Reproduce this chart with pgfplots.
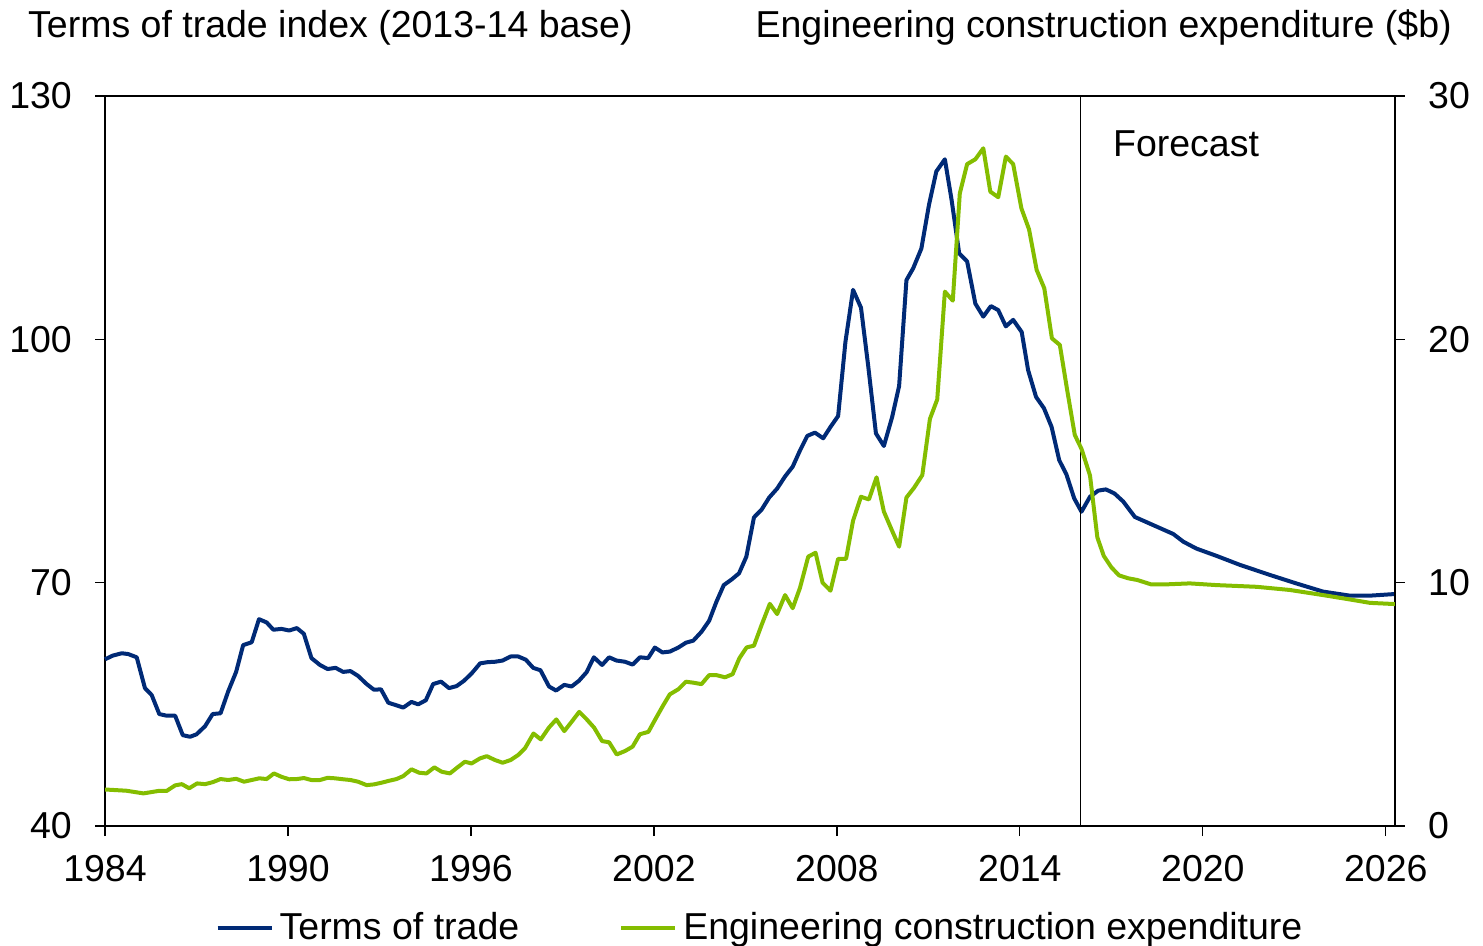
\documentclass[border=0pt]{standalone}
\usepackage{pgfplots}
\pgfplotsset{compat=1.18}
\usepackage{fontspec}
\setmainfont{Liberation Sans}
\definecolor{totblue}{RGB}{0,42,118}
\definecolor{ecegreen}{RGB}{132,189,0}
\begin{document}
\begin{tikzpicture}[font=\fontsize{37.5}{45}\selectfont]
\begin{axis}[
  name=main,
  at={(0,0)}, anchor=south west,
  width=1290pt, height=730pt, scale only axis,
  xmin=1984, xmax=2026.3, ymin=40, ymax=130,
  xtick={1984,1990,1996,2002,2008,2014,2020,2026},
  ytick={40,70,100,130},
  xtick pos=left, ytick pos=left,
  tick align=outside, major tick length=10pt,
  axis line style={line width=1.5pt},
  tick style={line width=1.2pt, black},
  /pgf/number format/1000 sep={},
  /pgf/number format/assume math mode=true,
  ticklabel style={font=\fontsize{37.5}{45}\selectfont, inner sep=0pt},
  yticklabel style={anchor=east, xshift=-23pt},
  xticklabel style={anchor=north, yshift=-19pt},
  legend style={at={(0.507,-0.138)}, anchor=center, draw=none, fill=none,
    legend columns=2, inner sep=0pt, font=\fontsize{37.5}{45}\selectfont,
    nodes={inner sep=0pt, anchor=base west}},
  legend image code/.code={\draw[#1, line width=4pt] (0pt,12pt) -- (54pt,12pt);},
  /tikz/every odd column/.append style={column sep=6pt},
  /tikz/every even column/.append style={column sep=100pt},
  clip=false,
]
\addplot[totblue, line width=4pt, line join=round] coordinates {
(1984.00,60.55) (1984.25,61.0) (1984.55,61.3) (1984.76,61.2) (1985.04,60.8)
(1985.31,57.0) (1985.53,56.15) (1985.78,53.8) (1986.02,53.6) (1986.30,53.6)
(1986.55,51.2) (1986.79,51.0) (1987.00,51.3) (1987.28,52.3) (1987.53,53.8)
(1987.79,53.9) (1988.04,56.6) (1988.30,59.0) (1988.53,62.3) (1988.81,62.65)
(1989.05,65.5) (1989.30,65.1) (1989.52,64.2) (1989.79,64.3) (1990.04,64.1)
(1990.29,64.4) (1990.52,63.7) (1990.77,60.7) (1991.05,59.85) (1991.30,59.35)
(1991.56,59.5) (1991.81,59.0) (1992.05,59.1) (1992.30,58.5) (1992.58,57.5)
(1992.82,56.8) (1993.05,56.85) (1993.29,55.2) (1993.54,54.9) (1993.78,54.6)
(1994.05,55.3) (1994.27,55.0) (1994.52,55.5) (1994.76,57.5) (1995.02,57.8)
(1995.28,57.0) (1995.53,57.25) (1995.77,57.9) (1996.02,58.8) (1996.30,60.05)
(1996.55,60.2) (1996.79,60.25) (1997.04,60.4) (1997.30,60.9) (1997.55,60.9)
(1997.80,60.5) (1998.04,59.5) (1998.28,59.2) (1998.56,57.2) (1998.79,56.7)
(1999.06,57.4) (1999.30,57.2) (1999.54,57.9) (1999.79,58.95) (2000.03,60.8)
(2000.30,59.85) (2000.53,60.8) (2000.77,60.4) (2001.05,60.25) (2001.30,59.9)
(2001.54,60.8) (2001.81,60.7) (2002.03,62.0) (2002.28,61.4) (2002.52,61.5)
(2002.80,62.0) (2003.05,62.6) (2003.29,62.85) (2003.56,63.95) (2003.81,65.3)
(2004.05,67.65) (2004.29,69.7) (2004.55,70.4) (2004.79,71.15) (2005.03,73.2)
(2005.28,78.05) (2005.53,79.0) (2005.78,80.5) (2006.04,81.6) (2006.30,83.1)
(2006.55,84.3) (2006.79,86.3) (2007.03,88.1) (2007.28,88.5) (2007.55,87.8)
(2007.79,89.2) (2008.04,90.55) (2008.28,99.7) (2008.53,106.1) (2008.79,103.9)
(2009.03,96.6) (2009.28,88.4) (2009.54,86.85) (2009.81,90.4) (2010.04,94.25)
(2010.28,107.3) (2010.50,108.75) (2010.77,111.2) (2011.02,116.6) (2011.26,120.7)
(2011.54,122.2) (2011.76,117.2) (2012.01,110.6) (2012.27,109.6) (2012.54,104.4)
(2012.80,102.8) (2013.05,104.1) (2013.29,103.6) (2013.54,101.6) (2013.78,102.4)
(2014.06,100.9) (2014.27,96.2) (2014.53,92.9) (2014.79,91.5) (2015.04,89.2)
(2015.29,85.1) (2015.53,83.3) (2015.78,80.4) (2016.02,78.75) (2016.30,80.6)
(2016.57,81.35) (2016.82,81.5) (2017.10,81.0) (2017.39,80.0) (2017.77,78.1)
(2018.37,77.1) (2019.03,76.0) (2019.36,75.05) (2019.79,74.2) (2020.45,73.3)
(2021.21,72.2) (2022.20,70.95) (2023.07,69.9) (2023.94,68.9) (2024.82,68.4)
(2025.48,68.4) (2026.30,68.6)
};
\addlegendentry{Terms of trade}
\addlegendimage{ecegreen}
\addlegendentry{Engineering construction expenditure}
\draw[black, line width=1pt] (axis cs:2016.0,40) -- (axis cs:2016.0,130);
\node[anchor=base west, inner sep=0pt] at (axis cs:2017.05,122.5) {Forecast};
\node[anchor=base west, inner sep=0pt] at (rel axis cs:-0.0597,1.0808) {Terms of trade index (2013-14 base)};
\node[anchor=base east, inner sep=0pt] at (rel axis cs:1.0442,1.0808) {Engineering construction expenditure (\$b)};
\end{axis}
\begin{axis}[
  at={(0,0)}, anchor=south west,
  width=1290pt, height=730pt, scale only axis,
  xmin=1984, xmax=2026.3, ymin=0, ymax=30,
  axis x line=none, axis y line*=right,
  ytick={0,10,20,30},
  tick align=outside, major tick length=10pt,
  axis line style={line width=1.5pt, -},
  tick style={line width=1.2pt, black},
  /pgf/number format/assume math mode=true,
  ticklabel style={font=\fontsize{37.5}{45}\selectfont, inner sep=0pt},
  yticklabel style={anchor=west, xshift=23pt},
]
\addplot[ecegreen, line width=4pt, line join=round] coordinates {
(1984.00,1.5) (1984.70,1.45) (1985.26,1.34) (1985.75,1.44) (1986.02,1.44)
(1986.30,1.67) (1986.52,1.72) (1986.76,1.55) (1987.02,1.75) (1987.28,1.72)
(1987.53,1.80) (1987.79,1.93) (1988.04,1.89) (1988.30,1.94) (1988.56,1.82)
(1988.81,1.89) (1989.06,1.96) (1989.30,1.93) (1989.54,2.16) (1989.79,2.02)
(1990.04,1.92) (1990.29,1.93) (1990.52,1.97) (1990.77,1.89) (1991.05,1.89)
(1991.30,1.98) (1991.54,1.96) (1991.81,1.92) (1992.05,1.89) (1992.30,1.82)
(1992.58,1.68) (1992.82,1.71) (1993.07,1.78) (1993.32,1.86) (1993.56,1.93)
(1993.78,2.05) (1994.05,2.33) (1994.30,2.19) (1994.54,2.16) (1994.80,2.41)
(1995.04,2.23) (1995.31,2.16) (1995.58,2.43) (1995.80,2.64) (1996.02,2.57)
(1996.30,2.78) (1996.52,2.87) (1996.79,2.71) (1997.04,2.60) (1997.30,2.71)
(1997.55,2.92) (1997.77,3.19) (1998.05,3.8) (1998.29,3.56) (1998.56,4.05)
(1998.80,4.38) (1999.06,3.9) (1999.30,4.28) (1999.55,4.69) (1999.79,4.39)
(2000.04,4.04) (2000.30,3.49) (2000.53,3.44) (2000.78,2.94) (2001.05,3.08)
(2001.30,3.26) (2001.54,3.77) (2001.82,3.87) (2002.03,4.35) (2002.29,4.93)
(2002.52,5.41) (2002.80,5.62) (2003.05,5.93) (2003.29,5.89) (2003.56,5.83)
(2003.81,6.2) (2004.05,6.2) (2004.33,6.11) (2004.58,6.24) (2004.80,6.89)
(2005.04,7.34) (2005.28,7.41) (2005.53,8.26) (2005.80,9.13) (2006.04,8.71)
(2006.30,9.49) (2006.55,8.95) (2006.79,9.79) (2007.06,11.07) (2007.30,11.23)
(2007.53,10.0) (2007.79,9.67) (2008.04,10.98) (2008.30,10.98) (2008.53,12.55)
(2008.79,13.53) (2009.05,13.42) (2009.30,14.33) (2009.54,12.92) (2009.79,12.19)
(2010.04,11.48) (2010.28,13.5) (2010.53,13.9) (2010.80,14.42) (2011.05,16.73)
(2011.29,17.53) (2011.54,21.96) (2011.80,21.59) (2012.03,26.0) (2012.27,27.2)
(2012.54,27.4) (2012.80,27.85) (2013.03,26.07) (2013.29,25.84) (2013.54,27.51)
(2013.78,27.2) (2014.05,25.38) (2014.30,24.52) (2014.55,22.85) (2014.80,22.1)
(2015.05,20.04) (2015.31,19.77) (2015.55,17.92) (2015.80,16.07) (2016.02,15.5)
(2016.30,14.4) (2016.54,11.86) (2016.75,11.1) (2017.00,10.63) (2017.25,10.3)
(2017.55,10.18) (2017.85,10.11) (2018.30,9.93) (2018.80,9.93) (2019.57,9.97)
(2020.45,9.9) (2021.76,9.83) (2022.85,9.7) (2023.94,9.49) (2024.82,9.31)
(2025.48,9.17) (2026.30,9.12)
};
\end{axis}
\pgfresetboundingbox
\path (-105pt,-119pt) rectangle (1378pt,826pt);
\end{tikzpicture}
\end{document}
